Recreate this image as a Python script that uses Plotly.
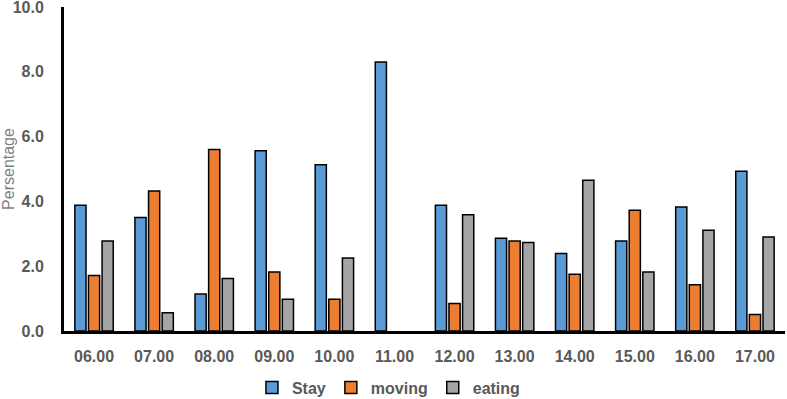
import plotly.graph_objects as go

hours = ["06.00", "07.00", "08.00", "09.00", "10.00", "11.00",
         "12.00", "13.00", "14.00", "15.00", "16.00", "17.00"]
stay = [3.88, 3.50, 1.14, 5.56, 5.13, 8.30, 3.88, 2.86, 2.39, 2.78, 3.83, 4.93]
moving = [1.71, 4.32, 5.60, 1.82, 0.98, None, 0.85, 2.78, 1.75, 3.73, 1.43, 0.51]
eating = [2.78, 0.56, 1.62, 0.98, 2.25, None, 3.59, 2.73, 4.65, 1.82, 3.11, 2.90]

series_names = ["Stay", "moving", "eating"]
series_colors = ["#5B9BD5", "#ED7D31", "#A5A5A5"]

FONT = "Liberation Sans, Arial, sans-serif"
GREY = "#595959"

fig = go.Figure()
for name, vals, col in zip(series_names, [stay, moving, eating], series_colors):
    fig.add_trace(go.Bar(
        x=hours, y=vals, name=name,
        marker=dict(color=col, line=dict(color="#000000", width=1.5)),
    ))

fig.update_layout(
    width=787, height=399,
    margin=dict(l=64, r=2, t=7, b=68, autoexpand=False),
    paper_bgcolor="white", plot_bgcolor="white",
    barmode="group", bargap=0.32, bargroupgap=0.18,
    font=dict(family=FONT, color=GREY),
    showlegend=True,
    legend=dict(
        orientation="h", x=0.45, xanchor="center", y=-0.175, yanchor="middle",
        font=dict(family=FONT, size=16, color=GREY, weight="bold"),
        itemwidth=30, tracegroupgap=0,
    ),
    xaxis=dict(
        type="category", showline=True, linecolor="#000000", linewidth=3,
        showgrid=False, zeroline=False, ticks="", automargin=False,
        tickfont=dict(family=FONT, size=16, color=GREY, weight="bold"),
        ticklabelstandoff=9, ticklabeloverflow="allow",
    ),
    yaxis=dict(
        range=[0, 10], dtick=2, tickformat=".1f",
        showline=True, linecolor="#000000", linewidth=3,
        showgrid=False, zeroline=False, ticks="", automargin=False,
        tickfont=dict(family=FONT, size=16, color=GREY, weight="bold"),
        ticklabelstandoff=14, ticklabeloverflow="allow",
        title=dict(text="Persentage", font=dict(family=FONT, size=16, color="#7F7F7F"),
                   standoff=2),
    ),
)

fig.write_html("out.html", config={"displayModeBar": False},
               post_script="document.body.style.margin='0';")
